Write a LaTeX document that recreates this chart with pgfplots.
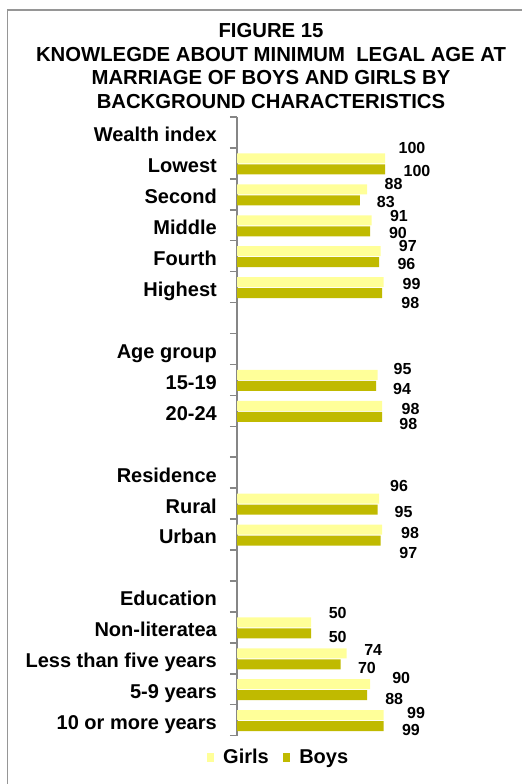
\documentclass[border=0pt]{standalone}
\usepackage{fontspec}
\setmainfont{Liberation Sans}
\usepackage{pgfplots}
\usepackage{pgfplotstable}
\pgfplotsset{compat=1.18}
\definecolor{girls}{RGB}{255,255,153}
\definecolor{boys}{RGB}{192,186,0}
\definecolor{axgray}{RGB}{134,134,134}
\definecolor{bordergray}{RGB}{150,150,150}
\pgfplotsset{sqlegend/.style={legend image code/.code={\fill[##1] (0bp,-4.5bp) rectangle (7.5bp,4.5bp);}}}

% y index, value, label x offset (bp, from bar end), label up offset (bp)
\pgfplotstableread{
y  val dx   up
1  100 27   10.7
2  88  26.3 5.7
3  91  27.3 4
4  97  27.2 5.3
5  99  28   -2.3
8  95  25   6.4
9  98  28.5 -3
12 96  20   13
13 98  28   -3
16 50  26.7 9.8
17 74  26.7 3.2
18 90  31   6
19 99  32.5 2.4
}\girlsdata

\pgfplotstableread{
y  val dx   up
1  100 32   -1.3
2  83  26   -1.2
3  90  27.7 -1.3
4  96  27.4 -1.3
5  98  28.3 -10
8  94  26   -2.8
9  98  26.3 -6.7
12 95  26   -2.5
13 97  27.7 -12
16 50  26.7 -3.9
17 70  26.3 -3.3
18 88  27   -3.6
19 99  27.4 -3.8
}\boysdata

\begin{document}
\begin{tikzpicture}
\path[use as bounding box] (0,0) rectangle (522bp,-784bp);
\draw[bordergray, line width=1.5bp] (7.5bp,-784bp) -- (7.5bp,-10bp) -- (522bp,-10bp);
\begin{scope}[every node/.style={font=\fontsize{20.3bp}{24bp}\selectfont\bfseries, anchor=base, inner sep=0pt}]
\node at (271bp,-37.5bp) {FIGURE 15};
\node at (271bp,-61bp) {KNOWLEGDE ABOUT MINIMUM~ LEGAL AGE AT};
\node at (271bp,-84.5bp) {MARRIAGE OF BOYS AND GIRLS BY};
\node at (271bp,-108bp) {BACKGROUND CHARACTERISTICS};
\end{scope}
\begin{axis}[
  at={(237bp,-735.6bp)}, anchor=south west,
  scale only axis, width=207.2bp, height=618.6bp,
  xmin=0, xmax=140,
  ymin=-0.5, ymax=19.5, y dir=reverse,
  axis x line=none, axis y line*=left,
  y axis line style={axgray, line width=1.5bp},
  ytick={0,...,19},
  yticklabels={Wealth index, Lowest, Second, Middle, Fourth, Highest, {}, {Age group\hspace{5bp}}, 15-19, 20-24, {}, Residence, Rural, Urban, {}, Education, Non-literatea, Less than five years, 5-9 years, 10 or more years},
  major tick length=0pt,
  extra y ticks={-0.5,0.5,...,19.5},
  extra y tick labels={},
  extra y tick style={major tick length=7bp, tick align=outside, tick style={axgray, line width=1.5bp}},
  yticklabel style={anchor=base east, inner sep=0pt, xshift=-20bp, yshift=-9.4bp, font=\fontsize{20bp}{24bp}\selectfont\bfseries},
  xbar, bar width=10bp,
  point meta=explicit symbolic,
  legend style={at={(axis description cs:-0.1462,-0.0346)}, anchor=west, draw=none, fill=none, inner sep=0pt, outer sep=0pt, legend columns=2, font=\fontsize{20bp}{24bp}\selectfont\bfseries, nodes={inner sep=0pt}, /tikz/every odd column/.append style={column sep=9bp}, /tikz/every even column/.append style={column sep=14bp}},
]
\addplot[fill=girls, draw=none, bar shift=5bp, sqlegend,
  visualization depends on={\thisrow{dx} \as \ndx},
  visualization depends on={\thisrow{up} \as \nup},
  nodes near coords={\pgfplotspointmeta},
  nodes near coords style={anchor=center, xshift=\ndx bp, yshift=\nup bp, font=\fontsize{16bp}{19bp}\selectfont\bfseries, text=black, inner sep=0pt},
] table[x=val, y=y, meta=val] {\girlsdata};
\addlegendentry{Girls}
\addplot[fill=boys, draw=none, bar shift=-6bp, sqlegend,
  visualization depends on={\thisrow{dx} \as \ndx},
  visualization depends on={\thisrow{up} \as \nup},
  nodes near coords={\pgfplotspointmeta},
  nodes near coords style={anchor=center, xshift=\ndx bp, yshift=\nup bp, font=\fontsize{16bp}{19bp}\selectfont\bfseries, text=black, inner sep=0pt},
] table[x=val, y=y, meta=val] {\boysdata};
\addlegendentry{Boys}
\end{axis}
\end{tikzpicture}
\end{document}
